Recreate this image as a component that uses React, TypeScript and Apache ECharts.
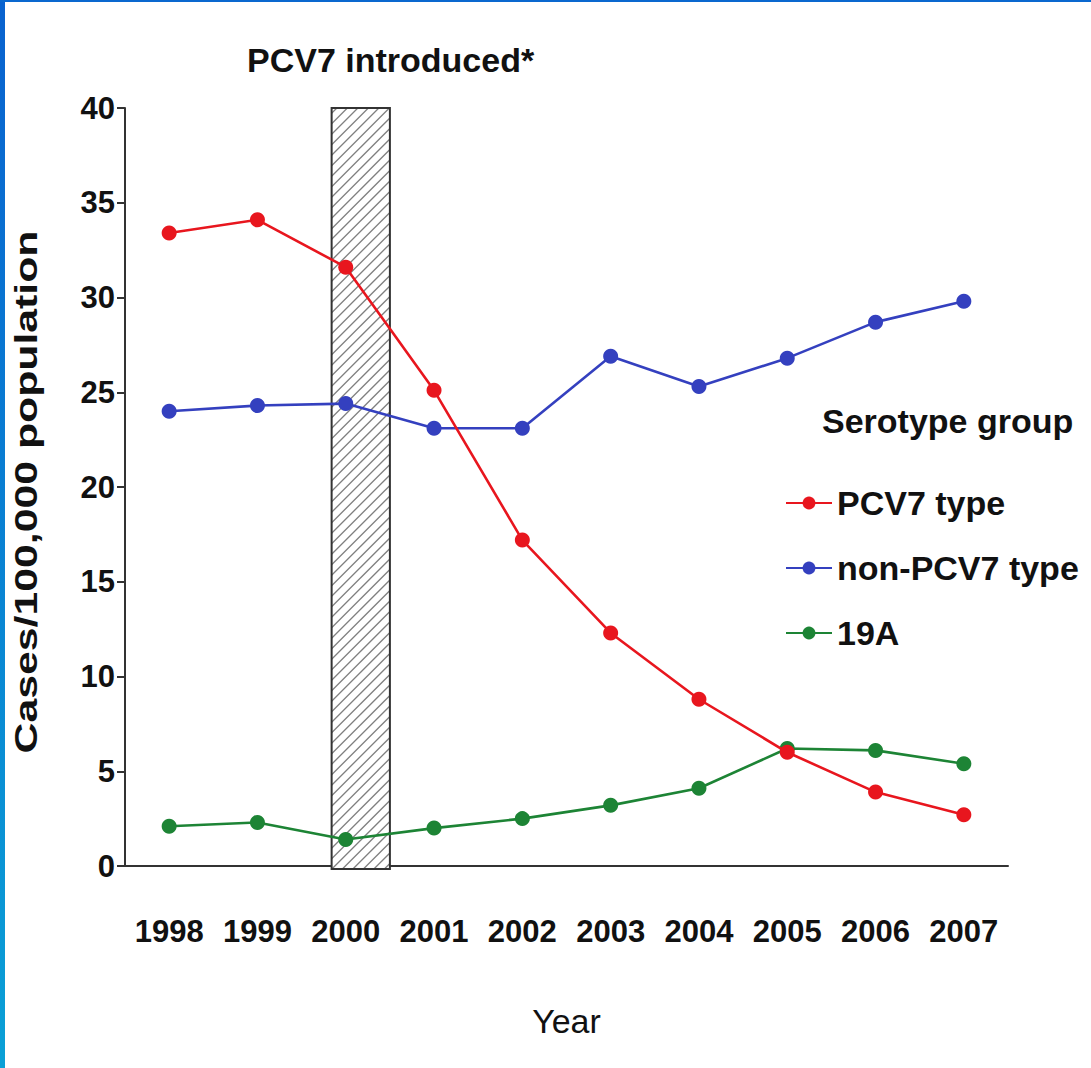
import React, { useEffect, useRef } from "react";
import * as echarts from "echarts";

const years = ["1998", "1999", "2000", "2001", "2002", "2003", "2004", "2005", "2006", "2007"];
const pcv7Type = [33.4, 34.1, 31.6, 25.1, 17.2, 12.3, 8.8, 6.0, 3.9, 2.7];
const nonPcv7Type = [24.0, 24.3, 24.4, 23.1, 23.1, 26.9, 25.3, 26.8, 28.7, 29.8];
const serotype19A = [2.1, 2.3, 1.4, 2.0, 2.5, 3.2, 4.1, 6.2, 6.1, 5.4];
const yTicks = { min: 0, max: 40, interval: 5 };
const introducedYear = "2000";
const introducedTop = 40;

const SANS = "'Liberation Sans', Arial, Helvetica, sans-serif";

export default function App() {
  const ref = useRef<HTMLDivElement>(null);
  useEffect(() => {
    if (!ref.current) return;
    const chart = echarts.init(ref.current, undefined, { renderer: "svg" });
    const lineSeries = (name: string, data: number[], color: string, z: number) => ({
      name,
      type: "line",
      data,
      symbol: "circle",
      symbolSize: 15,
      z,
      lineStyle: { color, width: 2.6 },
      itemStyle: { color },
    });
    chart.setOption({
      animation: false,
      backgroundColor: "#ffffff",
      title: [
        {
          text: "PCV7 introduced*",
          left: 247,
          top: 43,
          padding: 0,
          textStyle: { fontFamily: SANS, fontWeight: "bold", fontSize: 34, color: "#111" },
        },
        {
          text: "Serotype group",
          left: 822,
          top: 404,
          padding: 0,
          textStyle: { fontFamily: SANS, fontWeight: "bold", fontSize: 34, color: "#111" },
        },
      ],
      legend: {
        data: ["PCV7 type", "non-PCV7 type", "19A"],
        orient: "vertical",
        left: 785,
        top: 483,
        itemWidth: 46,
        itemHeight: 16,
        itemGap: 25,
        padding: 0,
        textStyle: { fontFamily: SANS, fontWeight: "bold", fontSize: 34, lineHeight: 40, color: "#111" },
      },
      graphic: [
        {
          type: "text",
          x: 26,
          y: 492,
          rotation: Math.PI / 2,
          scaleX: 1.38,
          style: {
            text: "Cases/100,000 population",
            font: `bold 31px ${SANS}`,
            fill: "#111",
            align: "center",
            verticalAlign: "middle",
          },
        },
      ],
      grid: { left: 125, right: 83, top: 108, bottom: 202 },
      xAxis: {
        type: "category",
        data: years,
        name: "Year",
        nameLocation: "middle",
        nameGap: 138,
        nameTextStyle: { fontFamily: SANS, fontSize: 34, color: "#111" },
        axisLine: { lineStyle: { color: "#333", width: 2 } },
        axisTick: { length: 14, lineStyle: { color: "#333", width: 2 } },
        axisLabel: { interval: 0, fontFamily: SANS, fontWeight: "bold", fontSize: 31, color: "#111", margin: 50 },
      },
      yAxis: {
        type: "value",
        min: yTicks.min,
        max: yTicks.max,
        interval: yTicks.interval,
        splitLine: { show: false },
        axisLine: { show: true, lineStyle: { color: "#333", width: 2 } },
        axisTick: { show: true, length: 8, lineStyle: { color: "#333", width: 2 } },
        axisLabel: { fontFamily: SANS, fontWeight: "bold", fontSize: 31, color: "#111", margin: 10 },
      },
      series: [
        {
          type: "custom",
          name: "introduced",
          clip: false,
          z: 1,
          silent: true,
          data: [[years.indexOf(introducedYear), introducedTop]],
          encode: { x: 0, y: 1 },
          renderItem: (_params: any, api: any) => {
            const cat = api.value(0);
            const top = api.coord([cat, api.value(1)]);
            const base = api.coord([cat, 0]);
            const bw = api.size([1, 0])[0];
            const x0 = top[0] - 0.16 * bw;
            const x1 = top[0] + 0.5 * bw;
            const y0 = top[1];
            const y1 = base[1] + 3;
            const children: any[] = [
              { type: "rect", shape: { x: x0, y: y0, width: x1 - x0, height: y1 - y0 }, style: { fill: "#fff" } },
            ];
            const step = 10.5;
            for (let c = x0 + y0 + step / 2; c < x1 + y1; c += step) {
              const xs = Math.max(x0, c - y1);
              const xe = Math.min(x1, c - y0);
              if (xe > xs) {
                children.push({
                  type: "line",
                  shape: { x1: xs, y1: c - xs, x2: xe, y2: c - xe },
                  style: { stroke: "#808080", lineWidth: 1.3 },
                });
              }
            }
            children.push({
              type: "rect",
              shape: { x: x0, y: y0, width: x1 - x0, height: y1 - y0 },
              style: { fill: "none", stroke: "#333", lineWidth: 2 },
            });
            return { type: "group", children };
          },
        },
        lineSeries("19A", serotype19A, "#1d8435", 3),
        lineSeries("non-PCV7 type", nonPcv7Type, "#3440bf", 4),
        lineSeries("PCV7 type", pcv7Type, "#e8161e", 5),
      ],
    });
    return () => chart.dispose();
  }, []);
  return (
    <div style={{ position: "fixed", left: 0, top: 0, width: 1091, height: 1068, background: "#fff" }}>
      <div ref={ref} style={{ position: "absolute", left: 0, top: 0, width: 1091, height: 1068 }} />
      <div
        style={{
          position: "absolute",
          left: 0,
          top: 0,
          width: 5,
          height: 1068,
          background: "linear-gradient(#0962cf, #0aa0d6)",
        }}
      />
      <div style={{ position: "absolute", left: 0, top: 0, width: 1091, height: 2, background: "#0a68cf" }} />
    </div>
  );
}
